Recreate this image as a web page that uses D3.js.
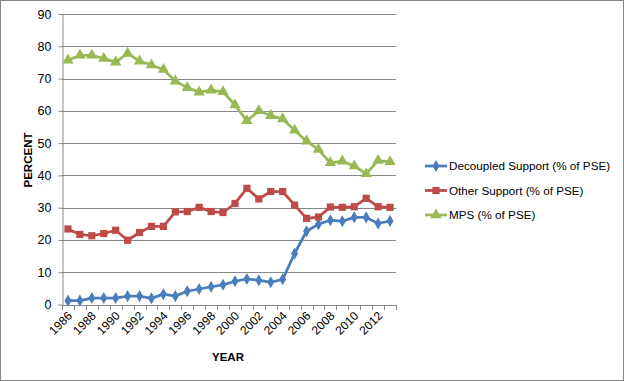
<!DOCTYPE html>
<html><head><meta charset="utf-8">
<script src="https://cdn.jsdelivr.net/npm/d3@7"></script>
<style>body{margin:0;background:#fff}svg{display:block;font-family:"Liberation Sans",Arial,sans-serif}</style>
</head><body><svg id="c" width="624" height="381"></svg>
<script>
const years = d3.range(1986, 2014);
const decoupled = [1.2,1.2,2.0,2.0,2.0,2.6,2.6,1.9,3.2,2.6,4.1,4.8,5.5,6.1,7.2,7.9,7.5,6.9,7.8,15.8,22.7,24.9,26.1,25.8,27.0,27.0,25.1,25.9];
const other = [23.4,21.7,21.3,22.0,23.0,19.9,22.3,24.2,24.2,28.7,28.8,30.1,28.8,28.5,31.3,36.0,32.7,35.0,35.0,30.8,26.7,27.1,30.2,30.1,30.3,32.9,30.3,30.1];
const mps = [75.7,77.2,77.2,76.2,75.1,77.8,75.4,74.2,72.8,69.2,67.2,65.8,66.4,65.9,61.8,56.9,60.0,58.5,57.5,54.0,50.6,48.0,43.9,44.4,42.9,40.5,44.6,44.2];
const yTicks = [0,10,20,30,40,50,60,70,80,90];
const seriesNames = ["Decoupled Support (% of PSE)","Other Support (% of PSE)","MPS (% of PSE)"];
const colors = ["#4A7EBB","#BE4B48","#98B954"];
const symbols = [d3.symbolDiamond, d3.symbolSquare, d3.symbolTriangle];
const symSizes = [42, 52, 56];

const svg = d3.select("#c");
svg.append("rect").attr("x",0.5).attr("y",0.5).attr("width",623).attr("height",380).attr("fill","#fff").attr("stroke","#868686");

const L=62, R=396, T=14, B=304.5;
const x = d3.scaleBand().domain(years).range([L,R]).padding(0);
const y = d3.scaleLinear().domain([0,90]).range([B,T]);

// gridlines
svg.append("g").selectAll("line").data(yTicks).join("line")
  .attr("x1",L).attr("x2",R).attr("y1",d=>Math.round(y(d))+0.5).attr("y2",d=>Math.round(y(d))+0.5)
  .attr("stroke","#868686").attr("stroke-width",1);

// y axis
const ya = svg.append("g").attr("transform",`translate(${L+0.5},0)`)
  .call(d3.axisLeft(y).tickValues(yTicks).tickSize(4).tickPadding(7).tickSizeOuter(0));
ya.select(".domain").attr("stroke","#868686");
ya.selectAll(".tick line").attr("stroke","#868686");
ya.selectAll(".tick text").attr("font-size",12.5).attr("fill","#000").attr("font-family","Liberation Sans, Arial, sans-serif");

// x axis line and boundary ticks
svg.append("line").attr("x1",L).attr("x2",R).attr("y1",Math.round(B)+0.5).attr("y2",Math.round(B)+0.5).attr("stroke","#868686");
const bounds = years.map(d=>x(d)).concat([R]);
svg.append("g").selectAll("line").data(bounds).join("line")
  .attr("x1",d=>Math.round(d)+0.5).attr("x2",d=>Math.round(d)+0.5)
  .attr("y1",Math.round(B)).attr("y2",Math.round(B)+5).attr("stroke","#868686");
// x labels
const labYears = years.filter(d=>d%2===0);
svg.append("g").selectAll("text").data(labYears).join("text")
  .attr("transform",d=>`translate(${x(d)+x.bandwidth()/2+5},${B+12}) rotate(-45)`)
  .attr("text-anchor","end").attr("font-size",12).attr("fill","#000").text(d=>d);

// axis titles
svg.append("text").attr("x",228).attr("y",361).attr("text-anchor","middle")
  .attr("font-size",11.5).attr("font-weight","bold").text("YEAR");
svg.append("text").attr("transform","translate(32,160) rotate(-90)").attr("text-anchor","middle")
  .attr("font-size",11.5).attr("font-weight","bold").text("PERCENT");

const data = [decoupled, other, mps];
const cx = d=>x(d)+x.bandwidth()/2;
data.forEach((vals,i)=>{
  const pts = years.map((yr,j)=>[cx(yr), y(vals[j])]);
  svg.append("path").attr("d",d3.line()(pts)).attr("fill","none")
    .attr("stroke",colors[i]).attr("stroke-width",2.75).attr("stroke-linejoin","round");
  svg.append("g").selectAll("path").data(pts).join("path")
    .attr("transform",p=>`translate(${p[0]},${p[1]})`)
    .attr("d",d3.symbol(symbols[i], symSizes[i])).attr("fill",colors[i]);
});

// legend
const lg = svg.append("g");
seriesNames.forEach((n,i)=>{
  const ly = 166 + i*24.5;
  lg.append("line").attr("x1",425).attr("x2",447).attr("y1",ly).attr("y2",ly).attr("stroke",colors[i]).attr("stroke-width",2.75);
  lg.append("path").attr("transform",`translate(436,${ly})`).attr("d",d3.symbol(symbols[i], symSizes[i])).attr("fill",colors[i]);
  lg.append("text").attr("x",449).attr("y",ly+4).attr("font-size",11.7).attr("fill","#000").text(n);
});
</script></body></html>
